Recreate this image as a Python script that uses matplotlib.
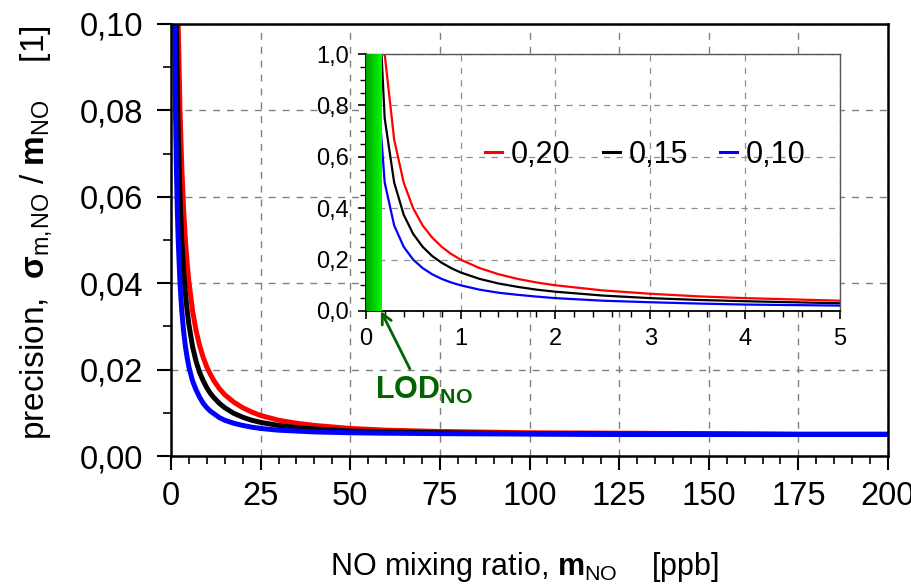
import numpy as np
import matplotlib
matplotlib.use('Agg')
import matplotlib.pyplot as plt
import matplotlib.ticker as ticker
from matplotlib.colors import LinearSegmentedColormap

plt.rcParams['font.family'] = ['Liberation Sans', 'DejaVu Sans']
plt.rcParams['mathtext.fontset'] = 'custom'
plt.rcParams['mathtext.rm'] = 'Liberation Sans'
plt.rcParams['mathtext.bf'] = 'Liberation Sans:bold'
plt.rcParams['mathtext.it'] = 'Liberation Sans:italic'

# --- data ---
labels = ['0,20', '0,15', '0,10']
colors = ['#ff0000', '#000000', '#0000ff']

# main panel: NO mixing ratio [ppb] and precision [1]
m_main = [1.0, 1.25, 1.5, 1.75, 2.0, 2.5, 3.0, 3.5, 4.0, 4.5, 5.0, 6.0, 7.0,
          8.0, 9.0, 10, 11, 12, 13.5, 15, 17.5, 20, 22.5, 25, 30, 35, 40, 50,
          60, 75, 100, 125, 150, 175, 200]
prec_020 = [0.2001, 0.1601, 0.1334, 0.1144, 0.1001, 0.0802, 0.0669, 0.0573,
            0.0502, 0.0447, 0.0403, 0.0337, 0.0290, 0.0255, 0.0228, 0.0206,
            0.0189, 0.0174, 0.0156, 0.0142, 0.0125, 0.0112, 0.0102, 0.0094,
            0.0083, 0.0076, 0.0071, 0.0064, 0.0060, 0.0057, 0.0054, 0.0053,
            0.0052, 0.0051, 0.0051]
prec_015 = [0.1501, 0.1201, 0.1001, 0.0859, 0.0752, 0.0602, 0.0502, 0.0431,
            0.0378, 0.0337, 0.0304, 0.0254, 0.0219, 0.0193, 0.0174, 0.0158,
            0.0145, 0.0135, 0.0122, 0.0112, 0.0099, 0.0090, 0.0083, 0.0078,
            0.0071, 0.0066, 0.0063, 0.0058, 0.0056, 0.0054, 0.0052, 0.0051,
            0.0051, 0.0050, 0.0050]
prec_010 = [0.1001, 0.0802, 0.0669, 0.0573, 0.0502, 0.0403, 0.0337, 0.0290,
            0.0255, 0.0228, 0.0206, 0.0174, 0.0153, 0.0136, 0.0122, 0.0112,
            0.0104, 0.0098, 0.0089, 0.0083, 0.0076, 0.0071, 0.0067, 0.0064,
            0.0060, 0.0058, 0.0056, 0.0054, 0.0053, 0.0052, 0.0051, 0.0050,
            0.0050, 0.0050, 0.0050]

# inset: low mixing ratios
m_inset = [0.1, 0.2, 0.3, 0.4, 0.5, 0.6, 0.7, 0.8, 0.9, 1.0, 1.2, 1.4, 1.6,
           1.8, 2.0, 2.5, 3.0, 3.5, 4.0, 4.5, 5.0]
ins_020 = [2.0, 1.0, 0.667, 0.50, 0.40, 0.333, 0.286, 0.25, 0.222, 0.20, 0.167,
           0.143, 0.125, 0.111, 0.10, 0.080, 0.067, 0.057, 0.050, 0.045, 0.040]
ins_015 = [1.50, 0.75, 0.50, 0.375, 0.30, 0.25, 0.214, 0.188, 0.167, 0.15,
           0.125, 0.107, 0.094, 0.083, 0.075, 0.060, 0.050, 0.043, 0.038,
           0.034, 0.030]
ins_010 = [1.0, 0.50, 0.333, 0.25, 0.20, 0.167, 0.143, 0.125, 0.111, 0.10,
           0.083, 0.071, 0.063, 0.056, 0.050, 0.040, 0.034, 0.029, 0.025,
           0.023, 0.021]

lod_no = 0.16  # ppb


def comma_fmt(decimals):
    return ticker.FuncFormatter(lambda v, pos: f'{v:.{decimals}f}'.replace('.', ','))


fig = plt.figure(figsize=(9.12, 5.84), dpi=100)

# --- main axes ---
ax = fig.add_axes([0.1875, 0.219, 0.7862, 0.740])
for y, c in zip([prec_020, prec_015, prec_010], colors):
    ax.plot(m_main, y, color=c, lw=3.6, solid_capstyle='butt')
ax.set_xlim(0, 200)
ax.set_ylim(0, 0.10)
ax.xaxis.set_major_locator(ticker.MultipleLocator(25))
ax.xaxis.set_minor_locator(ticker.MultipleLocator(5))
ax.yaxis.set_major_locator(ticker.MultipleLocator(0.02))
ax.yaxis.set_minor_locator(ticker.MultipleLocator(0.01))
ax.yaxis.set_major_formatter(comma_fmt(2))
ax.xaxis.set_major_formatter(ticker.FuncFormatter(lambda v, pos: f'{v:.0f}'))
ax.tick_params(which='major', direction='out', length=10, width=1.5,
               labelsize=23.5, pad=8)
ax.tick_params(which='minor', direction='out', length=6, width=1.2)
ax.tick_params(axis='y', which='major', pad=10)
ax.grid(True, which='major', color='#808080', ls=(0, (5, 5)), lw=1)
for s in ax.spines.values():
    s.set_linewidth(1.8)

fig.text(0.5746, 0.029, r'NO mixing ratio, $\mathbf{m}_{\mathrm{NO}}$    [ppb]',
         fontsize=22, ha='center', va='center')
fig.text(0.039, 0.602,
         r'precision,  $\mathbf{σ}_{\mathrm{m,\!NO}}$ / $\mathbf{m}_{\mathrm{NO}}$    [1]',
         fontsize=24, rotation=90, ha='center', va='center')

# --- inset ---
ins = fig.add_axes([0.401, 0.4675, 0.520, 0.440])
ins.set_facecolor('white')
for y, c, lab in zip([ins_020, ins_015, ins_010], colors, labels):
    ins.plot(m_inset, y, color=c, lw=1.6, label=lab)
green = LinearSegmentedColormap.from_list('lod', ['#00a000', '#00ff00'])
ins.imshow(np.linspace(0, 1, 50).reshape(1, -1), cmap=green, aspect='auto',
           extent=[0, lod_no, 0, 1.0], zorder=3)
ins.set_xlim(0, 5)
ins.set_ylim(0, 1.0)
ins.xaxis.set_major_locator(ticker.MultipleLocator(1))
ins.xaxis.set_minor_locator(ticker.MultipleLocator(0.2))
ins.yaxis.set_major_locator(ticker.MultipleLocator(0.2))
ins.yaxis.set_minor_locator(ticker.MultipleLocator(0.05))
ins.yaxis.set_major_formatter(comma_fmt(1))
ins.tick_params(which='major', direction='out', length=6, width=1.2,
                labelsize=17, pad=6)
ins.tick_params(which='minor', direction='out', length=4, width=1)
ins.grid(True, which='major', color='#909090', ls=(0, (5, 5)), lw=0.9)
ins.set_axisbelow(True)
for side in ['left', 'bottom']:
    ins.spines[side].set_linewidth(1.3)
for side in ['top', 'right']:
    ins.spines[side].set_color('#555555')
    ins.spines[side].set_linewidth(1.0)

leg = ins.legend(loc='center', bbox_to_anchor=(0.59, 0.607), ncol=3,
                 frameon=False, fontsize=22, handlelength=0.55,
                 handletextpad=0.3, columnspacing=1.05)
for h in leg.get_lines():
    h.set_linewidth(2.2)

ins.annotate('', xy=(lod_no, 0), xycoords='data',
             xytext=(0.093, -0.225), textcoords='axes fraction',
             annotation_clip=False,
             arrowprops=dict(arrowstyle='->', color='#006400', lw=2,
                             shrinkA=0, shrinkB=0, mutation_scale=18))
ins.text(0.122, -0.31, r'LOD$_{\mathbf{NO}}$', transform=ins.transAxes,
         fontsize=22, fontweight='bold', color='#006400',
         ha='center', va='center')

fig.savefig('out.png', dpi=100)
